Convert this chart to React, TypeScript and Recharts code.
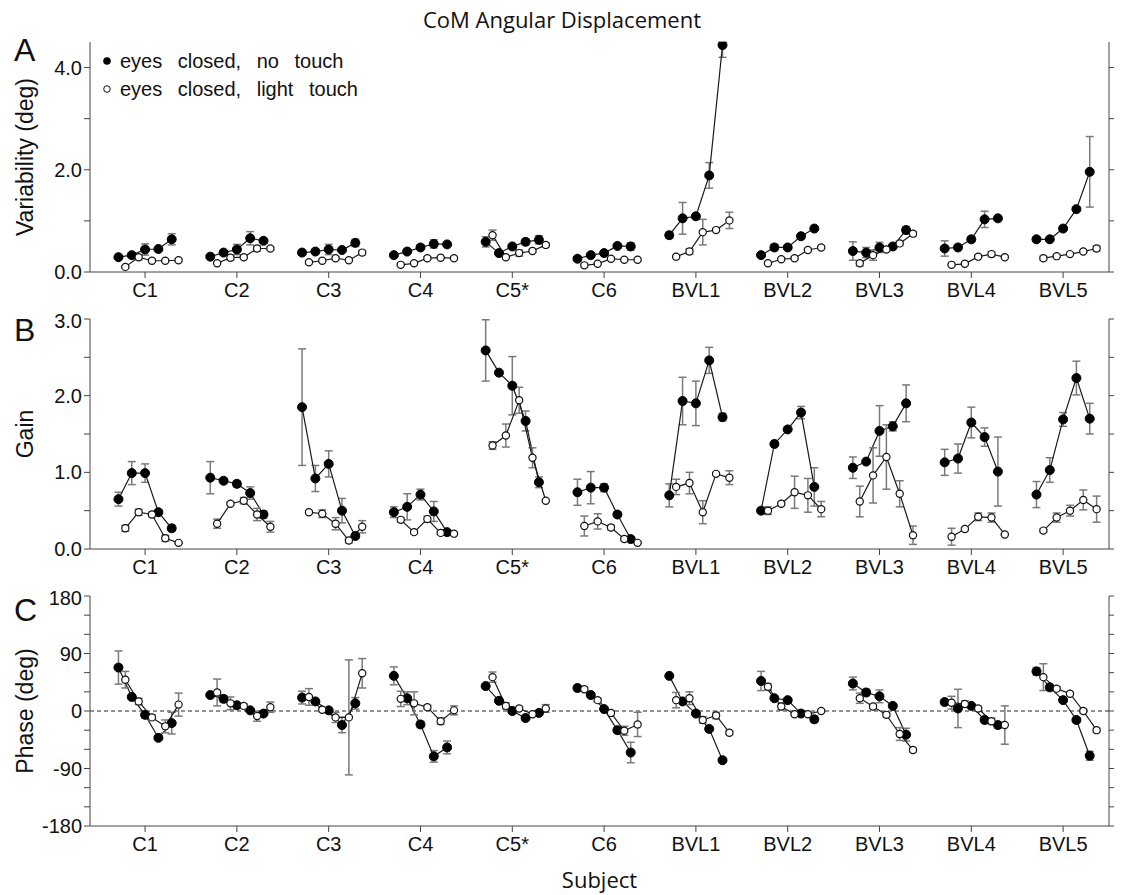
import { LineChart, Line, XAxis, YAxis, ErrorBar, ReferenceLine } from 'recharts';

const SUBJECTS = ['C1', 'C2', 'C3', 'C4', 'C5*', 'C6', 'BVL1', 'BVL2', 'BVL3', 'BVL4', 'BVL5'];
const SUBJECT_TICKS = [1, 2, 3, 4, 5, 6, 7, 8, 9, 10, 11];
const VAR_TICKS = [0, 1, 2, 3, 4];
const GAIN_TICKS = [0, 0.5, 1, 1.5, 2, 2.5, 3];
const PHASE_TICKS = [-180, -150, -120, -90, -60, -30, 0, 30, 60, 90, 120, 150, 180];

// A: variability (deg), 5 points per subject
const VAR_NO_TOUCH = [
  [0.29, 0.33, 0.44, 0.45, 0.64], [0.3, 0.38, 0.44, 0.66, 0.61], [0.38, 0.4, 0.44, 0.43, 0.57],
  [0.33, 0.4, 0.48, 0.55, 0.54], [0.59, 0.37, 0.5, 0.59, 0.63], [0.26, 0.33, 0.37, 0.51, 0.5],
  [0.72, 1.05, 1.09, 1.89, 4.44], [0.33, 0.48, 0.48, 0.7, 0.85], [0.41, 0.38, 0.48, 0.5, 0.82],
  [0.46, 0.48, 0.64, 1.03, 1.05], [0.64, 0.64, 0.85, 1.23, 1.96],
];
// BVL1 last point: upper whisker runs off the top of the panel
const VAR_NO_TOUCH_ERR: (number | number[])[][] = [
  [0.02, 0.03, 0.11, 0.03, 0.11], [0.02, 0.04, 0.1, 0.13, 0.04], [0.05, 0.03, 0.1, 0.03, 0.07],
  [0.02, 0.03, 0.04, 0.08, 0.02], [0.1, 0.03, 0.04, 0.06, 0.08], [0.04, 0.04, 0.04, 0.04, 0.07],
  [0.06, 0.31, 0.04, 0.25, [0.24, 0.06]], [0.02, 0.06, 0.03, 0.05, 0.03], [0.18, 0.1, 0.1, 0.04, 0.07],
  [0.15, 0.03, 0.05, 0.16, 0.04], [0.04, 0.03, 0.04, 0.04, 0.69],
];
const VAR_LIGHT_TOUCH = [
  [0.1, 0.29, 0.22, 0.22, 0.23], [0.17, 0.28, 0.29, 0.46, 0.46], [0.19, 0.22, 0.27, 0.23, 0.38],
  [0.14, 0.17, 0.27, 0.28, 0.27], [0.72, 0.29, 0.37, 0.41, 0.53], [0.13, 0.16, 0.26, 0.24, 0.24],
  [0.3, 0.4, 0.78, 0.82, 1.01], [0.17, 0.25, 0.27, 0.43, 0.48], [0.17, 0.33, 0.44, 0.56, 0.75],
  [0.14, 0.16, 0.3, 0.35, 0.29], [0.27, 0.31, 0.35, 0.4, 0.46],
];
const VAR_LIGHT_TOUCH_ERR = [
  [0.02, 0.05, 0.03, 0.02, 0.03], [0.02, 0.05, 0.03, 0.05, 0.03], [0.03, 0.03, 0.03, 0.02, 0.04],
  [0.02, 0.02, 0.03, 0.02, 0.03], [0.1, 0.03, 0.06, 0.03, 0.04], [0.04, 0.02, 0.02, 0.02, 0.02],
  [0.02, 0.05, 0.25, 0.03, 0.16], [0.02, 0.02, 0.03, 0.03, 0.03], [0.05, 0.1, 0.04, 0.04, 0.04],
  [0.02, 0.02, 0.03, 0.05, 0.02], [0.04, 0.02, 0.02, 0.02, 0.05],
];

// B: gain
const GAIN_NO_TOUCH = [
  [0.65, 0.99, 0.99, 0.48, 0.27], [0.93, 0.89, 0.85, 0.73, 0.45], [1.85, 0.92, 1.11, 0.5, 0.17],
  [0.48, 0.55, 0.71, 0.49, 0.22], [2.59, 2.3, 2.13, 1.67, 0.87], [0.74, 0.8, 0.8, 0.45, 0.13],
  [0.7, 1.93, 1.9, 2.46, 1.72], [0.5, 1.37, 1.56, 1.78, 0.81], [1.06, 1.14, 1.54, 1.6, 1.9],
  [1.13, 1.18, 1.65, 1.46, 1.01], [0.71, 1.03, 1.69, 2.23, 1.7],
];
const GAIN_NO_TOUCH_ERR = [
  [0.09, 0.15, 0.12, 0.03, 0.04], [0.21, 0.03, 0.04, 0.08, 0.05], [0.76, 0.17, 0.17, 0.16, 0.03],
  [0.07, 0.17, 0.07, 0.13, 0.02], [0.4, 0.02, 0.38, 0.13, 0.07], [0.17, 0.21, 0.05, 0.03, 0.02],
  [0.15, 0.31, 0.29, 0.17, 0.05], [0.03, 0.02, 0.02, 0.08, 0.25], [0.14, 0.02, 0.33, 0.06, 0.24],
  [0.17, 0.19, 0.2, 0.12, 0.45], [0.17, 0.16, 0.09, 0.22, 0.2],
];
const GAIN_LIGHT_TOUCH = [
  [0.27, 0.48, 0.45, 0.14, 0.08], [0.33, 0.59, 0.63, 0.45, 0.29], [0.48, 0.46, 0.33, 0.11, 0.29],
  [0.38, 0.22, 0.39, 0.21, 0.2], [1.35, 1.48, 1.94, 1.19, 0.63], [0.3, 0.36, 0.28, 0.13, 0.08],
  [0.81, 0.86, 0.48, 0.98, 0.93], [0.5, 0.59, 0.74, 0.7, 0.52], [0.62, 0.96, 1.2, 0.72, 0.18],
  [0.16, 0.26, 0.42, 0.41, 0.19], [0.24, 0.41, 0.5, 0.64, 0.52],
];
const GAIN_LIGHT_TOUCH_ERR = [
  [0.04, 0.04, 0.03, 0.04, 0.01], [0.06, 0.02, 0.04, 0.08, 0.07], [0.02, 0.05, 0.08, 0.03, 0.08],
  [0.03, 0.02, 0.04, 0.02, 0.02], [0.05, 0.15, 0.17, 0.13, 0.01], [0.13, 0.1, 0.03, 0.02, 0.01],
  [0.1, 0.14, 0.15, 0.02, 0.09], [0.05, 0.02, 0.21, 0.22, 0.1], [0.2, 0.36, 0.42, 0.17, 0.12],
  [0.11, 0.02, 0.05, 0.06, 0.01], [0.02, 0.06, 0.07, 0.13, 0.17],
];

// C: phase (deg)
const PHASE_NO_TOUCH = [
  [68, 22, -6, -42, -19], [25, 19, 9, 1, -4], [21, 15, 1, -22, 12], [55, 20, -21, -71, -57],
  [39, 16, 0, -11, -3], [36, 25, 3, -30, -65], [55, 15, -4, -28, -77], [47, 20, 17, -4, -13],
  [43, 29, 23, 8, -37], [14, 4, 8, -14, -22], [62, 37, 17, -14, -70],
];
const PHASE_NO_TOUCH_ERR = [
  [26, 3, 5, 3, 17], [2, 5, 2, 2, 3], [10, 3, 3, 12, 9], [14, 10, 5, 9, 10],
  [2, 3, 3, 3, 2], [4, 3, 3, 4, 16], [2, 3, 3, 3, 3], [15, 3, 2, 2, 5],
  [10, 5, 10, 3, 10], [3, 30, 3, 3, 5], [6, 3, 3, 3, 7],
];
const PHASE_LIGHT_TOUCH = [
  [49, 15, -10, -24, 10], [29, 12, 8, -8, 6], [22, 2, -10, -10, 59], [19, 12, 6, -16, 1],
  [53, 8, 4, -5, 4], [34, 17, -3, -31, -21], [17, 20, -14, -7, -34], [38, 7, -5, -5, 0],
  [20, 7, -6, -36, -61], [13, 11, 4, -16, -22], [53, 35, 27, 0, -30],
];
const PHASE_LIGHT_TOUCH_ERR = [
  [13, 5, 4, 10, 18], [21, 10, 3, 8, 8], [13, 3, 8, 90, 23], [12, 18, 3, 5, 7],
  [8, 5, 3, 3, 6], [3, 3, 3, 7, 19], [12, 10, 5, 5, 3], [5, 5, 2, 2, 2],
  [8, 3, 3, 10, 3], [10, 5, 3, 5, 30], [21, 3, 3, 3, 3],
];

const FONT = '"Liberation Sans", Arial, sans-serif';
const TITLE_FONT = '"Open Sans", "Noto Sans", sans-serif';
const X_DOMAIN = [0.4, 11.5];
const STEP = 0.145;

type Pt = { x: number; y: number | null; err?: number | number[] };

// one row per point, with a null row between subjects so the line breaks
function toSeries(values: number[][], errors: (number | number[])[][], start: number): Pt[] {
  const rows: Pt[] = [];
  values.forEach((group, i) => {
    group.forEach((v, k) => rows.push({ x: i + 1 + start + k * STEP, y: v, err: errors[i][k] }));
    rows.push({ x: i + 1.5, y: null });
  });
  return rows;
}

const tickStyle = { fontSize: 20, fill: '#111', fontFamily: FONT };

interface PanelProps {
  top: number;
  domain: number[];
  ticks: number[];
  format: (v: number) => string;
  label: string;
  noTouch: Pt[];
  lightTouch: Pt[];
  zeroLine?: boolean;
}

function Panel({ top, domain, ticks, format, label, noTouch, lightTouch, zeroLine }: PanelProps) {
  return (
    <div style={{ position: 'absolute', left: 0, top }}>
      <LineChart width={1124} height={280} margin={{ top: 10, right: 7, bottom: 0, left: 10 }}>
        <XAxis
          xAxisId="b"
          dataKey="x"
          type="number"
          domain={X_DOMAIN}
          ticks={SUBJECT_TICKS}
          tickFormatter={(v) => SUBJECTS[v - 1]}
          allowDataOverflow
          height={40}
          tick={tickStyle}
          tickSize={6}
          tickMargin={5}
          stroke="#444"
        />
        <XAxis xAxisId="t" orientation="top" type="number" domain={X_DOMAIN} allowDataOverflow height={0} tick={false} tickLine={false} stroke="#444" />
        <YAxis
          yAxisId="l"
          type="number"
          domain={domain}
          ticks={ticks}
          tickFormatter={format}
          allowDataOverflow
          width={80}
          tick={tickStyle}
          tickSize={6}
          tickMargin={2}
          stroke="#444"
          label={{
            value: label,
            angle: -90,
            position: 'insideLeft',
            offset: 15,
            style: { textAnchor: 'middle', fontSize: 23, fill: '#111', fontFamily: FONT },
          }}
        />
        <YAxis
          yAxisId="r"
          orientation="right"
          type="number"
          domain={domain}
          ticks={ticks}
          tickFormatter={() => ''}
          allowDataOverflow
          width={8}
          tickSize={5}
          stroke="#444"
        />
        {zeroLine && (
          <ReferenceLine xAxisId="b" yAxisId="l" y={0} stroke="#222" strokeDasharray="4 3" strokeWidth={1} />
        )}
        <Line
          xAxisId="b"
          yAxisId="l"
          data={noTouch}
          dataKey="y"
          type="linear"
          stroke="#1a1a1a"
          strokeWidth={1.2}
          connectNulls={false}
          dot={{ r: 4.5, fill: '#000', stroke: '#000', strokeWidth: 1 }}
          activeDot={false}
          isAnimationActive={false}
        >
          <ErrorBar dataKey="err" direction="y" width={4} stroke="#7a7a7a" strokeWidth={1.5} />
        </Line>
        <Line
          xAxisId="b"
          yAxisId="l"
          data={lightTouch}
          dataKey="y"
          type="linear"
          stroke="#1a1a1a"
          strokeWidth={1.2}
          connectNulls={false}
          dot={{ r: 3.6, fill: '#fff', stroke: '#111', strokeWidth: 1.2 }}
          activeDot={false}
          isAnimationActive={false}
        >
          <ErrorBar dataKey="err" direction="y" width={4} stroke="#7a7a7a" strokeWidth={1.5} />
        </Line>
      </LineChart>
    </div>
  );
}

const letterStyle = { position: 'absolute' as const, left: 14, fontSize: 32, fontFamily: FONT, lineHeight: 1, color: '#111' };
const legendRow = { display: 'flex', alignItems: 'center', height: 28, fontSize: 20, fontFamily: FONT, color: '#111', wordSpacing: 10 };

export default function App() {
  return (
    <div style={{ position: 'absolute', left: 0, top: 0, width: 1124, height: 895, background: '#fff' }}>
      <div style={{ position: 'absolute', left: 0, width: 1124, top: 4, textAlign: 'center', fontSize: 22, fontFamily: TITLE_FONT, color: '#111' }}>
        CoM Angular Displacement
      </div>

      <Panel
        top={32}
        domain={[0, 4.5]}
        ticks={VAR_TICKS}
        format={(v) => (v % 2 === 0 ? v.toFixed(1) : '')}
        label="Variability (deg)"
        noTouch={toSeries(VAR_NO_TOUCH, VAR_NO_TOUCH_ERR, -0.29)}
        lightTouch={toSeries(VAR_LIGHT_TOUCH, VAR_LIGHT_TOUCH_ERR, -0.215)}
      />
      <Panel
        top={309}
        domain={[0, 3]}
        ticks={GAIN_TICKS}
        format={(v) => (Number.isInteger(v) ? v.toFixed(1) : '')}
        label="Gain"
        noTouch={toSeries(GAIN_NO_TOUCH, GAIN_NO_TOUCH_ERR, -0.29)}
        lightTouch={toSeries(GAIN_LIGHT_TOUCH, GAIN_LIGHT_TOUCH_ERR, -0.215)}
      />
      <Panel
        top={586}
        domain={[-180, 180]}
        ticks={PHASE_TICKS}
        format={(v) => (v % 90 === 0 ? String(v) : '')}
        label="Phase (deg)"
        noTouch={toSeries(PHASE_NO_TOUCH, PHASE_NO_TOUCH_ERR, -0.29)}
        lightTouch={toSeries(PHASE_LIGHT_TOUCH, PHASE_LIGHT_TOUCH_ERR, -0.215)}
        zeroLine
      />

      <div style={{ ...letterStyle, top: 34 }}>A</div>
      <div style={{ ...letterStyle, top: 314 }}>B</div>
      <div style={{ ...letterStyle, top: 594 }}>C</div>

      <div style={{ position: 'absolute', left: 102, top: 47 }}>
        <div style={legendRow}>
          <svg width={18} height={10}><circle cx={5} cy={5} r={3.8} fill="#000" /></svg>
          <span>eyes closed, no touch</span>
        </div>
        <div style={legendRow}>
          <svg width={18} height={10}><circle cx={5} cy={5} r={3.3} fill="#fff" stroke="#111" strokeWidth={1} /></svg>
          <span>eyes closed, light touch</span>
        </div>
      </div>

      <div style={{ position: 'absolute', left: 90, width: 1019, top: 864, textAlign: 'center', fontSize: 22, fontFamily: TITLE_FONT, color: '#111' }}>
        Subject
      </div>
    </div>
  );
}
